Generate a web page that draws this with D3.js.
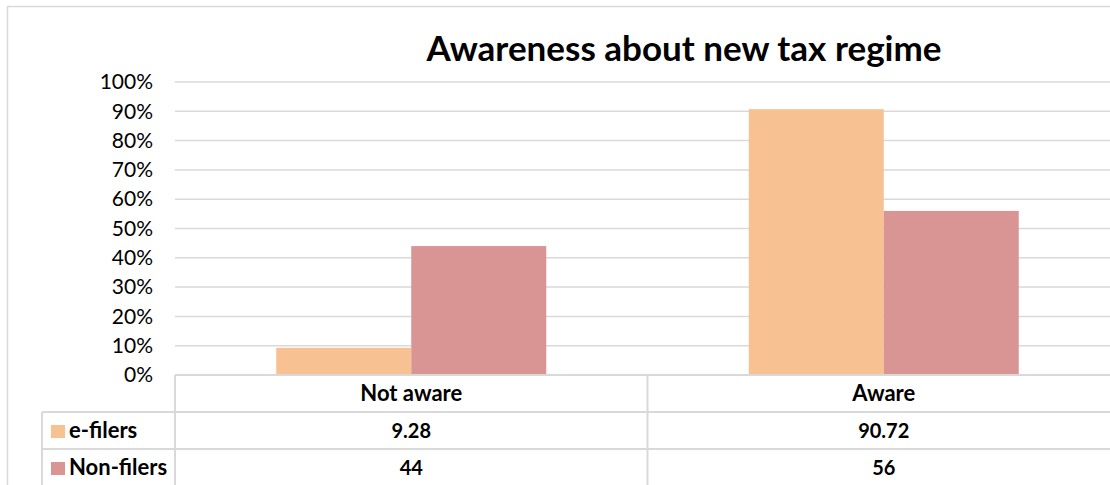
<!DOCTYPE html>
<html>
<head>
<meta charset="utf-8">
<script src="https://cdn.jsdelivr.net/npm/d3@7"></script>
<style>
  html, body { margin: 0; padding: 0; background: #fff; }
  svg { display: block; font-family: Lato, "Open Sans", sans-serif; }
</style>
</head>
<body>
<svg id="chart"></svg>
<script>
// data
const categories = ['Not aware', 'Aware'];
const series = ['e-filers', 'Non-filers'];
const eFilers = [9.28, 90.72];
const nonFilers = [44, 56];
const yTicks = [0, 10, 20, 30, 40, 50, 60, 70, 80, 90, 100];
const colors = ['#F8C192', '#D99594'];

const width = 1110, height = 485;
const plot = { left: 175, right: 1120, top: 82, bottom: 375 };
const rowH = 37;
const gridColor = '#D9D9D9';

const svg = d3.select('#chart')
    .attr('width', width)
    .attr('height', height);

// outer chart border
svg.append('rect')
    .attr('x', 7.5).attr('y', 6.5)
    .attr('width', 1200).attr('height', 600)
    .attr('fill', 'none')
    .attr('stroke', gridColor)
    .attr('stroke-width', 1.5);

// title
svg.append('text')
    .attr('x', 684).attr('y', 61)
    .attr('text-anchor', 'middle')
    .style('font-size', '35px')
    .style('font-weight', 'bold')
    .text('Awareness about new tax regime');

// scales
const y = d3.scaleLinear().domain([0, 100]).range([plot.bottom, plot.top]);
const x = d3.scaleBand().domain(categories).range([plot.left, plot.right]).padding(0);
const xs = d3.scaleBand().domain(series).range([0, x.bandwidth()])
    .paddingInner(0).paddingOuter(0.75);

// gridlines
svg.append('g')
    .selectAll('line')
    .data(yTicks.filter(d => d > 0))
    .join('line')
    .attr('x1', plot.left).attr('x2', width)
    .attr('y1', d => y(d)).attr('y2', d => y(d))
    .attr('stroke', gridColor)
    .attr('stroke-width', 1.5);

// y axis labels
const yAxis = svg.append('g')
    .attr('transform', `translate(${plot.left},0)`)
    .call(d3.axisLeft(y).tickValues(yTicks).tickFormat(d => d + '%').tickSize(0).tickPadding(22));
yAxis.select('.domain').remove();
yAxis.selectAll('text')
    .style('font-family', 'Lato, sans-serif')
    .style('font-size', '21px')
    .attr('fill', '#000');

// bars
const values = [eFilers, nonFilers];
const barData = [];
categories.forEach((c, i) => {
    series.forEach((s, j) => {
        barData.push({ cat: c, ser: s, value: values[j][i], color: colors[j] });
    });
});

svg.append('g')
    .selectAll('rect')
    .data(barData)
    .join('rect')
    .attr('x', d => x(d.cat) + xs(d.ser))
    .attr('width', xs.bandwidth())
    .attr('y', d => y(d.value))
    .attr('height', d => y(0) - y(d.value))
    .attr('fill', d => d.color);

// data table under the axis
const table = svg.append('g');
const tableLeft = 42;
const rowsY = [plot.bottom, plot.bottom + rowH, plot.bottom + 2 * rowH, plot.bottom + 3 * rowH];

// horizontal lines
table.append('line')
    .attr('x1', plot.left).attr('x2', width)
    .attr('y1', rowsY[0]).attr('y2', rowsY[0])
    .attr('stroke', gridColor).attr('stroke-width', 2);
[rowsY[1], rowsY[2]].forEach(yy => {
    table.append('line')
        .attr('x1', tableLeft).attr('x2', width)
        .attr('y1', yy).attr('y2', yy)
        .attr('stroke', gridColor).attr('stroke-width', 2);
});

// vertical lines
table.append('line')
    .attr('x1', tableLeft).attr('x2', tableLeft)
    .attr('y1', rowsY[1]).attr('y2', height)
    .attr('stroke', gridColor).attr('stroke-width', 2);
[plot.left, x('Aware')].forEach(xx => {
    table.append('line')
        .attr('x1', xx).attr('x2', xx)
        .attr('y1', rowsY[0]).attr('y2', height)
        .attr('stroke', gridColor).attr('stroke-width', 2);
});

// category row
table.selectAll('text.cat')
    .data(categories)
    .join('text')
    .attr('class', 'cat')
    .attr('x', d => x(d) + x.bandwidth() / 2)
    .attr('y', rowsY[0] + 26)
    .attr('text-anchor', 'middle')
    .style('font-size', '22px')
    .style('font-weight', 'bold')
    .text(d => d);

// series rows
series.forEach((s, j) => {
    const top = rowsY[j + 1];
    table.append('rect')
        .attr('x', 51).attr('y', top + 13)
        .attr('width', 14).attr('height', 13)
        .attr('fill', colors[j]);
    table.append('text')
        .attr('x', 69).attr('y', top + 26)
        .style('font-size', '22px')
        .style('font-weight', 'bold')
        .text(s);
    table.selectAll('text.v' + j)
        .data(values[j])
        .join('text')
        .attr('class', 'v' + j)
        .attr('x', (d, i) => x(categories[i]) + x.bandwidth() / 2)
        .attr('y', top + 26)
        .attr('text-anchor', 'middle')
        .style('font-size', '20px')
        .style('font-weight', 'bold')
        .text(d => d);
});
</script>
</body>
</html>
